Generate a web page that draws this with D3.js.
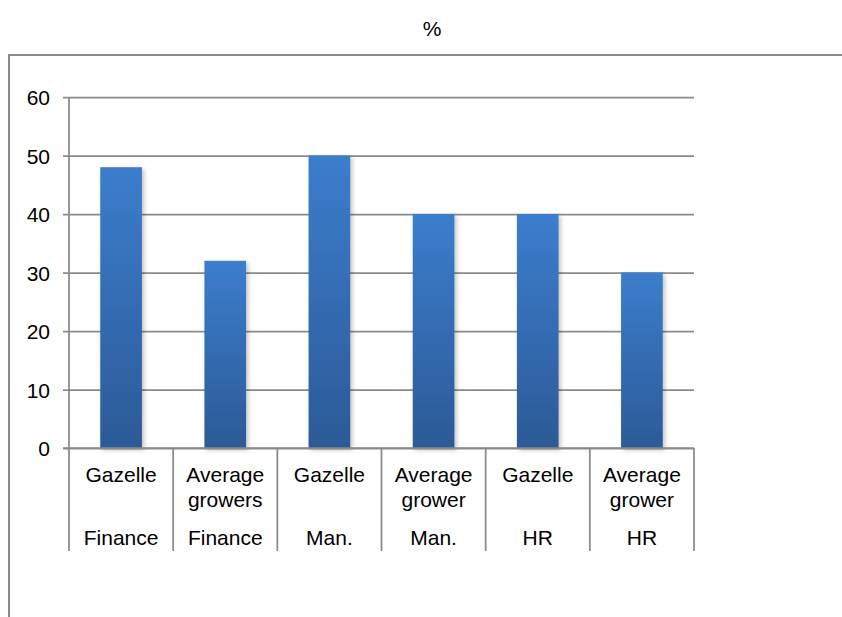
<!DOCTYPE html>
<html>
<head>
<meta charset="utf-8">
<script src="https://cdn.jsdelivr.net/npm/d3@7"></script>
<style>
  html, body { margin: 0; padding: 0; background: #fff; }
  svg { display: block; font-family: "Liberation Sans", Arial, sans-serif; }
</style>
</head>
<body>
<svg id="chart" width="842" height="617"></svg>
<script>
// Bar categories: group label (top row) and department (bottom row)
const groupLabels = [["Gazelle"], ["Average", "growers"], ["Gazelle"], ["Average", "grower"], ["Gazelle"], ["Average", "grower"]];
const deptLabels = ["Finance", "Finance", "Man.", "Man.", "HR", "HR"];
const values = [48, 32, 50, 40, 40, 30];
const yTicks = [0, 10, 20, 30, 40, 50, 60];
const title = "%";

const svg = d3.select("#chart");
const W = 842, H = 617;
const margin = { left: 69, right: 148, top: 97, bottom: 169 };
const x0 = margin.left, x1 = W - margin.right;
const y0 = H - margin.bottom, y1 = margin.top;

const gridColor = "#8a8a8a";
const fontSize = 21;

// Outer chart frame (runs off the right and bottom edge)
svg.append("path")
  .attr("d", `M9,${W + 10} L9,55 L${W + 10},55`)
  .attr("fill", "none")
  .attr("stroke", gridColor)
  .attr("stroke-width", 2);

// Title
svg.append("text")
  .attr("x", 432).attr("y", 36)
  .attr("text-anchor", "middle")
  .attr("font-size", fontSize)
  .attr("fill", "#000")
  .text(title);

const idx = d3.range(values.length);
const x = d3.scaleBand().domain(idx).range([x0, x1]).paddingInner(0).paddingOuter(0);
const y = d3.scaleLinear().domain([0, 60]).range([y0, y1]);

// Gradient and soft shadow for bars
const defs = svg.append("defs");
const grad = defs.append("linearGradient")
  .attr("id", "barGrad").attr("x1", 0).attr("y1", 0).attr("x2", 0).attr("y2", 1);
grad.append("stop").attr("offset", "0%").attr("stop-color", "#3c7dcd");
grad.append("stop").attr("offset", "100%").attr("stop-color", "#2c5a97");

const shadow = defs.append("filter").attr("id", "barShadow")
  .attr("x", "-30%").attr("y", "-10%").attr("width", "160%").attr("height", "130%");
shadow.append("feDropShadow")
  .attr("dx", 2).attr("dy", 2).attr("stdDeviation", 2)
  .attr("flood-color", "#000").attr("flood-opacity", 0.25);

// Horizontal gridlines
const yAxis = d3.axisLeft(y).tickValues(yTicks).tickSize(-(x1 - x0)).tickSizeOuter(0).tickPadding(19);
const gy = svg.append("g").attr("transform", `translate(${x0},0)`).call(yAxis);
gy.select(".domain").remove();
gy.selectAll(".tick line")
  .attr("x1", -6)
  .attr("stroke", gridColor).attr("stroke-width", 1.75);
gy.selectAll(".tick text")
  .attr("font-size", fontSize)
  .attr("font-family", "Liberation Sans, Arial, sans-serif")
  .attr("fill", "#000")
  .attr("dy", "0.36em");

// Vertical value axis line
svg.append("line")
  .attr("x1", x0).attr("x2", x0)
  .attr("y1", y1).attr("y2", y0)
  .attr("stroke", gridColor).attr("stroke-width", 1.75);

// Bars
svg.append("g").selectAll("rect")
  .data(idx)
  .join("rect")
  .attr("x", i => x(i) + x.bandwidth() * 0.3)
  .attr("width", x.bandwidth() * 0.4)
  .attr("y", i => y(values[i]))
  .attr("height", i => y(0) - y(values[i]))
  .attr("fill", "url(#barGrad)")
  .attr("filter", "url(#barShadow)");

// Category axis: base line plus boundary dividers
const catBottom = 551;
svg.append("line")
  .attr("x1", x0 - 6).attr("x2", x1)
  .attr("y1", y0).attr("y2", y0)
  .attr("stroke", gridColor).attr("stroke-width", 1.75);

const bounds = idx.map(i => x(i)).concat([x1]);
svg.append("g").selectAll("line")
  .data(bounds)
  .join("line")
  .attr("x1", d => d).attr("x2", d => d)
  .attr("y1", y0).attr("y2", catBottom)
  .attr("stroke", gridColor).attr("stroke-width", 1.75);

// Category labels
const labels = svg.append("g")
  .attr("font-size", fontSize)
  .attr("fill", "#000")
  .attr("text-anchor", "middle");

idx.forEach(i => {
  const cx = x(i) + x.bandwidth() / 2;
  groupLabels[i].forEach((line, k) => {
    labels.append("text")
      .attr("x", cx).attr("y", 482 + k * 24.5)
      .text(line);
  });
  labels.append("text")
    .attr("x", cx).attr("y", 545)
    .text(deptLabels[i]);
});
</script>
</body>
</html>
